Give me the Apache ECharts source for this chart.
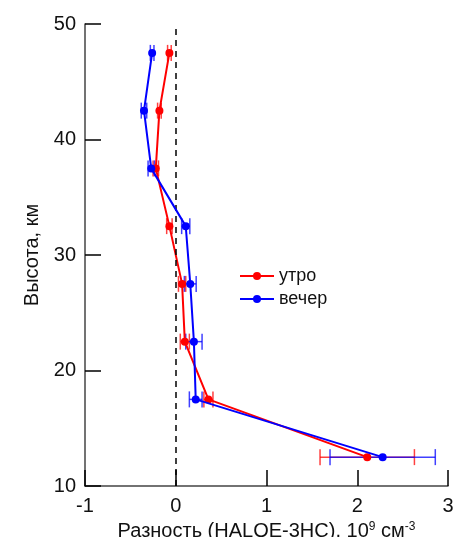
<!DOCTYPE html>
<html>
<head>
<meta charset="utf-8">
<script src="https://cdn.jsdelivr.net/npm/echarts@6/dist/echarts.min.js"></script>
<style>
  html, body { margin: 0; padding: 0; background: #fff; }
  #chart { width: 454px; height: 537px; }
</style>
</head>
<body>
<div id="chart"></div>
<script>
// высоты, км
var heights = [47.5, 42.5, 37.5, 32.5, 27.5, 22.5, 17.5, 12.5];
// утро
var morning = [-0.07, -0.18, -0.22, -0.07, 0.07, 0.10, 0.36, 2.11];
var morningErr = [0.02, 0.02, 0.03, 0.03, 0.04, 0.05, 0.05, 0.52];
// вечер
var evening = [-0.26, -0.35, -0.27, 0.11, 0.16, 0.20, 0.22, 2.28];
var eveningErr = [0.02, 0.03, 0.035, 0.045, 0.065, 0.09, 0.07, 0.58];

var xTicks = [-1, 0, 1, 2, 3];
var yTicks = [10, 20, 30, 40, 50];

function pts(xs) {
    var out = [];
    for (let i = 0; i < heights.length; i++) out.push([xs[i], heights[i]]);
    return out;
}
function errs(xs, es) {
    var out = [];
    for (let i = 0; i < heights.length; i++) out.push([heights[i], xs[i] - es[i], xs[i] + es[i]]);
    return out;
}
// горизонтальные "усы" погрешностей
function errBar(color) {
    return function (params, api) {
        var y = api.value(0);
        var a = api.coord([api.value(1), y]);
        var b = api.coord([api.value(2), y]);
        var h = 8;
        var st = { stroke: color, lineWidth: 1.5, opacity: 0.75 };
        return {
            type: 'group',
            children: [
                { type: 'line', shape: { x1: a[0], y1: a[1], x2: b[0], y2: b[1] }, style: st },
                { type: 'line', shape: { x1: a[0], y1: a[1] - h, x2: a[0], y2: a[1] + h }, style: st },
                { type: 'line', shape: { x1: b[0], y1: b[1] - h, x2: b[0], y2: b[1] + h }, style: st }
            ]
        };
    };
}

var myChart = echarts.init(document.getElementById('chart'));
var font = 'Liberation Sans, Arial, sans-serif';
var option = {
    animation: false,
    backgroundColor: '#fff',
    textStyle: { fontFamily: font },
    grid: { left: 85, top: 24, right: 6, bottom: 51, outerBoundsMode: 'none', containLabel: false },
    legend: {
        left: 234,
        top: 262,
        orient: 'vertical',
        itemWidth: 34,
        itemHeight: 10,
        itemGap: 5,
        textStyle: { fontSize: 18, color: '#111', fontFamily: font },
        data: ['утро', 'вечер']
    },
    xAxis: {
        type: 'value',
        min: xTicks[0],
        max: xTicks[xTicks.length - 1],
        interval: 1,
        name: 'Разность (HALOE-3HC), 10{sup|9} см{sup|-3}',
        nameLocation: 'middle',
        nameGap: 22,
        nameTextStyle: {
            fontSize: 20, color: '#111', fontFamily: font, lineHeight: 22,
            rich: { sup: { fontSize: 12, lineHeight: 22, verticalAlign: 'top', padding: [0, 0, 6, 0], color: '#111', fontFamily: font } }
        },
        axisLine: { onZero: false, lineStyle: { color: '#444', width: 1.5 } },
        axisTick: { inside: true, length: 16, lineStyle: { color: '#000', width: 1.5 } },
        axisLabel: { fontSize: 20, color: '#111', margin: 10, fontFamily: font },
        splitLine: { show: false }
    },
    yAxis: {
        type: 'value',
        min: yTicks[0],
        max: yTicks[yTicks.length - 1],
        interval: 10,
        name: 'Высота, км',
        nameLocation: 'middle',
        nameGap: 42,
        nameTextStyle: { fontSize: 20, color: '#111', fontFamily: font },
        axisLine: { show: true, onZero: false, lineStyle: { color: '#444', width: 1.5 } },
        axisTick: { show: true, inside: true, length: 16, lineStyle: { color: '#000', width: 1.5 } },
        axisLabel: { fontSize: 20, color: '#111', margin: 9, fontFamily: font },
        splitLine: { show: false }
    },
    series: [
        {
            type: 'custom',
            renderItem: errBar('#ff0000'),
            data: errs(morning, morningErr),
            encode: { x: [1, 2], y: 0 },
            z: 3
        },
        {
            type: 'custom',
            renderItem: errBar('#0000ff'),
            data: errs(evening, eveningErr),
            encode: { x: [1, 2], y: 0 },
            z: 3
        },
        {
            name: 'утро',
            type: 'line',
            data: pts(morning),
            symbol: 'circle',
            symbolSize: 8,
            lineStyle: { color: '#ff0000', width: 2 },
            itemStyle: { color: '#ff0000' },
            z: 4,
            markLine: {
                silent: true,
                symbol: 'none',
                label: { show: false },
                lineStyle: { color: '#000', type: [6, 5], width: 1.5 },
                data: [{ xAxis: 0 }]
            }
        },
        {
            name: 'вечер',
            type: 'line',
            data: pts(evening),
            symbol: 'circle',
            symbolSize: 8,
            lineStyle: { color: '#0000ff', width: 2 },
            itemStyle: { color: '#0000ff' },
            z: 5
        }
    ]
};
myChart.setOption(option);
</script>
</body>
</html>
